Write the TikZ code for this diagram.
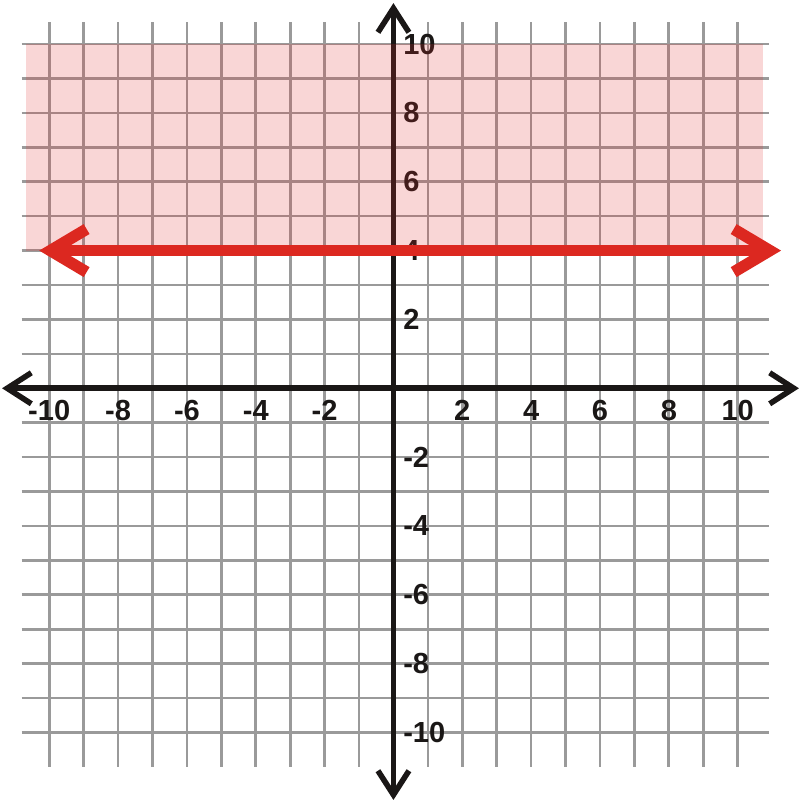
\documentclass[tikz,border=0pt]{standalone}
\usepackage{xcolor}
\usepackage{tikz}
\usetikzlibrary{arrows.meta}
\usepackage{fontspec}
\setmainfont{Liberation Sans}
\definecolor{gridgray}{HTML}{9A9A9A}
\definecolor{axisblack}{HTML}{1A1716}
\definecolor{linered}{HTML}{DC2820}
\definecolor{shade}{HTML}{E03030}

\begin{document}
\begin{tikzpicture}[
  gridline/.style={gridgray, line width=2.2pt},
  axis/.style={axisblack, line width=4.6pt, >={Straight Barb[length=0.7cm, width=0.9cm]}, <->},
  tick/.style={font=\bfseries\fontsize{24}{28}\selectfont, text=axisblack, inner sep=0pt},
  region/.style={fill=shade, fill opacity=0.2},
  boundary/.style={linered, line width=9.5pt, >={Straight Barb[length=1.05cm, width=1.25cm]}, <->},
]
\useasboundingbox (-11.43,-11.99) rectangle (11.81,11.28);

% Grid
\foreach \k in {-10,...,10} {
  \draw[gridline] (\k,-11) -- (\k,10.65);
  \draw[gridline] (-10.8,\k) -- (10.9,\k);
}

% Axes
\coordinate (xl) at (-11.37,0);
\coordinate (xr) at (11.78,0);
\coordinate (yb) at (0,-11.96);
\coordinate (yt) at (0,11.19);
\draw[axis] (xl) -- (xr);
\draw[axis] (yb) -- (yt);

% Tick labels
\foreach \v in {-10,-8,-6,-4,-2,2,4,6,8,10} {
  \node[tick] (x\v) at (\v,-0.65) {\v};
  \node[tick, anchor=west] (y\v) at (0.28,\v) {\v};
}

% Solution region y >= 4
\fill[region] (-10.67,4) rectangle (10.73,10);

% Boundary line y = 4
\coordinate (bl) at (-10.29,4);
\coordinate (br) at (11.26,4);
\draw[boundary] (bl) -- (br);

\end{tikzpicture}
\end{document}
